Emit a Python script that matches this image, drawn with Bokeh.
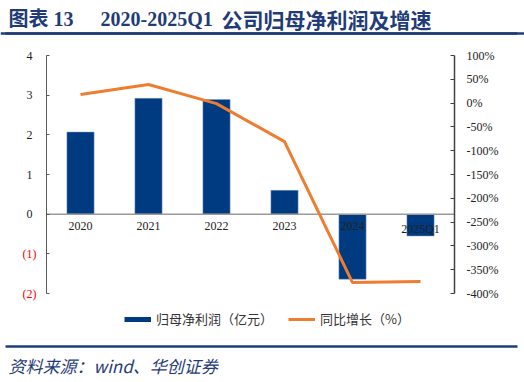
from bokeh.plotting import figure
from bokeh.models import (Range1d, LinearAxis, FixedTicker, PrintfTickFormatter, Label,
                          Legend, LegendItem, ColumnDataSource, Span)
from bokeh.core.properties import value
from bokeh.embed import file_html
from bokeh.resources import INLINE

years = ["2020", "2021", "2022", "2023", "2024", "2025Q1"]
profit = [2.07, 2.92, 2.89, 0.60, -1.64, -0.55]       # 亿元
growth = [18, 39, -1, -81, -377, -375]                 # %
left_ticks = [-2, -1, 0, 1, 2, 3, 4]
right_ticks = [-400, -350, -300, -250, -200, -150, -100, -50, 0, 50, 100]

BAR = "#003A80"
ORANGE = "#ED7D31"
NAVY = "#1F3C78"
SERIF = "Liberation Serif"
CJK = "Noto Sans CJK SC"

W, H = 524, 382
PL, PR, PT, PB = 46, 454, 55, 293
n = len(years)
idx = list(range(n))
ux = (PR - PL) / n
x0 = -0.5 - PL / ux
x1 = (n - 0.5) + (W - PR) / ux
lmin, lmax = min(left_ticks), max(left_ticks)
rmin, rmax = min(right_ticks), max(right_ticks)
uy = (PB - PT) / (lmax - lmin)
ury = (PB - PT) / (rmax - rmin)
ytop = lmax + PT / uy


def ypix(c):
    return ytop - c / uy


def xpix(c):
    return x0 + c / ux


src = ColumnDataSource(dict(x=idx, cat=years, profit=profit, growth=growth))

p = figure(width=W, height=H,
           x_range=Range1d(x0, x1),
           y_range=Range1d(lmin - (H - PB) / uy, ytop),
           output_backend="svg", toolbar_location=None,
           min_border=0, min_border_left=0, min_border_right=0,
           min_border_top=0, min_border_bottom=0)
p.title.visible = False
p.outline_line_color = None
p.grid.visible = False
p.xaxis.visible = False
p.background_fill_color = "white"
p.extra_y_ranges = {"pct": Range1d(rmin - (H - PB) / ury, rmax + PT / ury)}

# rule lines under the title and above the source note
p.segment(x0=[xpix(5)] * 2, x1=[xpix(517)] * 2, y0=[ypix(33), ypix(346)],
          y1=[ypix(33), ypix(346)], line_color=NAVY, line_width=2.4)
p.add_layout(Span(location=ypix(33), dimension="width", line_color=NAVY,
                  line_width=2.4, level="overlay"))

ya = p.yaxis[0]
ya.fixed_location = -0.5
ya.bounds = (lmin, lmax)
ya.ticker = FixedTicker(ticks=left_ticks)
ya.major_label_overrides = {-1: "", -2: ""}
ya.axis_line_color = "#595959"
ya.major_tick_line_color = "#595959"
ya.major_tick_in = 3
ya.major_tick_out = 0
ya.minor_tick_line_color = None
ya.major_label_text_font = SERIF
ya.major_label_text_font_size = "12px"
ya.major_label_text_color = "#222222"
ya.major_label_standoff = 14

ra = LinearAxis(y_range_name="pct", ticker=FixedTicker(ticks=right_ticks),
                formatter=PrintfTickFormatter(format="%d%%"))
ra.fixed_location = n - 0.5
ra.bounds = (rmin, rmax)
ra.axis_line_color = "#404040"
ra.axis_line_width = 1.5
ra.major_tick_line_color = "#404040"
ra.major_tick_in = 4
ra.major_tick_out = 0
ra.minor_tick_line_color = None
ra.major_label_text_font = SERIF
ra.major_label_text_font_size = "12px"
ra.major_label_text_color = "#222222"
ra.major_label_standoff = 12
p.add_layout(ra, "right")

for v, t in [(-1, "(1)"), (-2, "(2)")]:
    p.add_layout(Label(x=-0.5, y=v, x_offset=-10, text=t,
                       text_align="right", text_baseline="middle", text_color="#FF0000",
                       text_font=SERIF, text_font_size="12px"))

p.vbar(x="x", top="profit", bottom=0, width=0.4, source=src, fill_color=BAR,
       line_color="#7f9cc4", line_width=0.5)
p.segment(x0=[-0.5], x1=[n - 0.5], y0=[0], y1=[0], line_color="#9a9a9a", line_width=1.5)
p.line(x="x", y="growth", source=src, y_range_name="pct", line_color=ORANGE, line_width=3)

p.text(x="x", y=0, text="cat", source=src, y_offset=8, text_align="center",
       text_baseline="top", text_font=value(SERIF), text_font_size="12px", text_color="#222222")

nan = float("nan")
lb = p.line(x=[0, 0], y=[nan, nan], line_color=BAR, line_width=5)
lo = p.line(x=[0, 0], y=[nan, nan], line_color=ORANGE, line_width=3)
leg = Legend(items=[LegendItem(label="归母净利润（亿元）", renderers=[lb]),
                    LegendItem(label="同比增长（%）", renderers=[lo])],
             orientation="horizontal", location=(124, H - 328), padding=0, margin=0,
             spacing=15, glyph_width=27, glyph_height=12, label_standoff=5,
             label_text_font=CJK, label_text_font_size="13px",
             label_text_color="#333333", background_fill_alpha=0, border_line_color=None)
p.add_layout(leg, "center")

TF = SERIF + ", " + CJK
common = dict(x_units="screen", y_units="screen", text_color=NAVY, text_baseline="middle",
              background_fill_color=None, border_line_color=None)
p.add_layout(Label(x=8, y=H - 18, text="图表 13", text_font=TF, text_font_style="bold",
                   text_font_size="20px", **common))
p.add_layout(Label(x=100, y=H - 18, text="2020-2025Q1", text_font=SERIF,
                   text_font_style="bold", text_font_size="20px", **common))
p.add_layout(Label(x=221, y=H - 18, text="公司归母净利润及增速", text_font=CJK,
                   text_font_style="bold", text_font_size="21px", **common))
p.add_layout(Label(x=8, y=H - 365, text="资料来源：wind、华创证券", text_font=CJK,
                   text_font_style="italic", text_font_size="17px", **common))

open("out.html", "w").write(file_html(p, INLINE))
